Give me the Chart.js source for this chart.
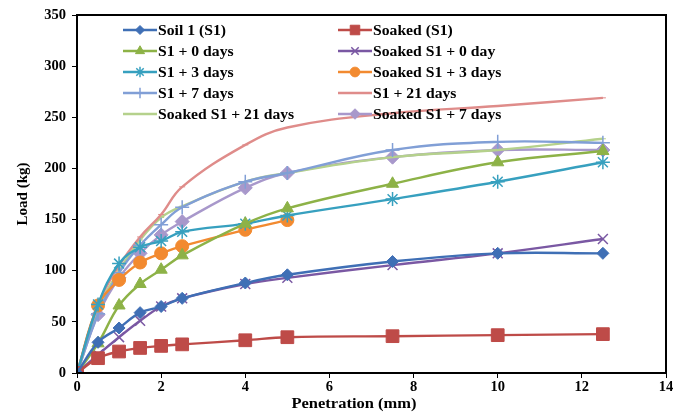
<!DOCTYPE html>
<html>
<head>
<meta charset="utf-8">
<script src="https://cdn.jsdelivr.net/npm/chart.js@4/dist/chart.umd.min.js"></script>
<style>
html,body{margin:0;padding:0;background:#fff;}
#wrap{width:680px;height:412px;position:relative;}
</style>
</head>
<body>
<div id="wrap"><canvas id="c" width="680" height="412"></canvas></div>
<script>
// ---- data ----
const penetration = [0, 0.5, 1, 1.5, 2, 2.5, 4, 5, 7.5, 10, 12.5];
const seriesNames = [
  "Soil 1 (S1)", "Soaked (S1)",
  "S1 + 0 days", "Soaked S1 + 0 day",
  "S1 + 3 days", "Soaked S1 + 3 days",
  "S1 + 7 days", "S1 + 21 days",
  "Soaked S1 + 21 days", "Soaked S1 + 7 days"
];
const soil1        = [0, 30, 44, 59, 65, 73, 88, 96, 109, 117, 117];
const soakedS1     = [0, 14.5, 21, 24.5, 26.5, 28, 32, 35, 36, 37, 38];
const s1Day0       = [0, 29, 66, 87, 101, 115, 146, 161, 185, 206, 217];
const soakedDay0   = [0, 18, 35, 51, 65, 73, 87, 93, 105.5, 117, 131];
const s1Day3       = [0, 67, 107, 123, 129, 138, 146, 154, 170, 187, 206];
const soakedDay3   = [0, 66, 91, 108, 117, 124, 140, 149.5];
const s1Day7       = [0, 58, 98, 125, 145, 162, 187, 195.5, 218, 226, 225];
const s1Day21      = [0, 67, 105, 133, 155, 182, 223, 240, 254, 261, 269];
const soakedDay21  = [0, 63, 100, 130, 152, 163, 187, 195.5, 211, 218, 229];
const soakedDay7   = [0, 57, 93, 117, 135, 148, 181, 195.5, 211, 218, 218];
const xTicks = [0, 2, 4, 6, 8, 10, 12, 14];
const yTicks = [0, 50, 100, 150, 200, 250, 300, 350];
const xTitle = "Penetration (mm)";
const yTitle = "Load (kg)";

const values = [soil1, soakedS1, s1Day0, soakedDay0, s1Day3, soakedDay3, s1Day7, s1Day21, soakedDay21, soakedDay7];
const colors = ["#3F6FB5", "#BE4B48", "#8DB247", "#7A58A3", "#37A0BF", "#F28A30", "#819FD6", "#DF8C8A", "#B5D18C", "#A898CB"];
const styles = ["rectRot", "rect", "triangle", "crossRot", "star", "circle", "cross", "line", "line", "rectRot"];
const radii  = [6, 9, 7, 7, 7, 6.5, 7, 3, 3, 7];

const FONT = "'Liberation Serif', 'Times New Roman', serif";

const datasets = values.map((vals, i) => ({
  label: seriesNames[i],
  data: vals.map((v, j) => ({x: penetration[j], y: v})),
  borderColor: colors[i],
  backgroundColor: colors[i],
  pointBackgroundColor: colors[i],
  pointBorderColor: colors[i],
  pointStyle: styles[i],
  pointRadius: radii[i],
  pointBorderWidth: (styles[i] === "crossRot" || styles[i] === "star" || styles[i] === "cross") ? 1.5 : 1,
  borderWidth: 2.4,
  tension: 0.4,
  fill: false
}));

const frame = {
  id: 'frame',
  afterDraw(chart) {
    const {ctx, chartArea: a} = chart;
    ctx.save();
    ctx.strokeStyle = '#000';
    ctx.lineWidth = 2;
    ctx.strokeRect(a.left, a.top, a.right - a.left, a.bottom - a.top);
    // x axis title
    ctx.font = "bold 15px " + FONT;
    ctx.fillStyle = '#000';
    ctx.textAlign = 'center';
    ctx.textBaseline = 'middle';
    ctx.translate(354, 404);
    ctx.scale(1.1, 1);
    ctx.fillText(xTitle, 0, 0);
    ctx.restore();
  }
};

const legendPlugin = {
  id: 'legendInside',
  afterDatasetsDraw(chart) {
    const ctx = chart.ctx;
    ctx.save();
    ctx.textBaseline = 'middle';
    chart.data.datasets.forEach((ds, i) => {
      const col = i % 2, row = Math.floor(i / 2);
      const x1 = col === 0 ? 123 : 338;
      const x2 = x1 + 34;
      const y = 30 + row * 21;
      ctx.strokeStyle = ds.borderColor;
      ctx.lineWidth = 2.5;
      ctx.beginPath(); ctx.moveTo(x1, y); ctx.lineTo(x2, y); ctx.stroke();
      if (ds.pointStyle !== 'line') {
        ctx.fillStyle = ds.pointBackgroundColor;
        ctx.strokeStyle = ds.pointBorderColor;
        ctx.lineWidth = ds.pointBorderWidth;
        Chart.helpers.drawPoint(ctx, {pointStyle: ds.pointStyle, radius: ds.pointRadius * 0.75, rotation: 0, borderWidth: ds.pointBorderWidth}, (x1 + x2) / 2, y);
      }
      ctx.save();
      ctx.fillStyle = '#000';
      ctx.font = "bold 14px " + FONT;
      ctx.translate(x2 + 1, y + 1);
      ctx.scale(1.12, 1);
      ctx.fillText(ds.label, 0, 0);
      ctx.restore();
    });
    ctx.restore();
  }
};

new Chart(document.getElementById('c'), {
  type: 'line',
  data: { datasets },
  options: {
    responsive: false,
    animation: false,
    layout: { padding: { left: 0, right: 14, top: 15, bottom: 0 } },
    plugins: { legend: { display: false }, tooltip: { enabled: false } },
    scales: {
      x: {
        type: 'linear', min: 0, max: 14,
        afterBuildTicks(scale) { scale.ticks = xTicks.map(v => ({value: v})); },
        afterFit(scale) { scale.height = 39; },
        grid: { drawOnChartArea: false, drawTicks: true, tickLength: 5, color: '#000', lineWidth: 1 },
        border: { display: true, color: '#000', width: 2 },
        ticks: { color: '#000', font: { family: FONT, size: 14.5, weight: 'bold' }, padding: 1, maxRotation: 0 },
        title: { display: false }
      },
      y: {
        type: 'linear', min: 0, max: 350,
        afterBuildTicks(scale) { scale.ticks = yTicks.map(v => ({value: v})); },
        afterFit(scale) { scale.width = 77; },
        grid: { drawOnChartArea: false, drawTicks: true, tickLength: 5, color: '#000', lineWidth: 1 },
        border: { display: true, color: '#000', width: 2 },
        ticks: { color: '#000', font: { family: FONT, size: 14.5, weight: 'bold' }, padding: 6 },
        title: { display: true, text: yTitle, color: '#000', font: { family: FONT, size: 15, weight: 'bold' }, padding: { top: 14, bottom: 6 } }
      }
    }
  },
  plugins: [frame, legendPlugin]
});
</script>
</body>
</html>
